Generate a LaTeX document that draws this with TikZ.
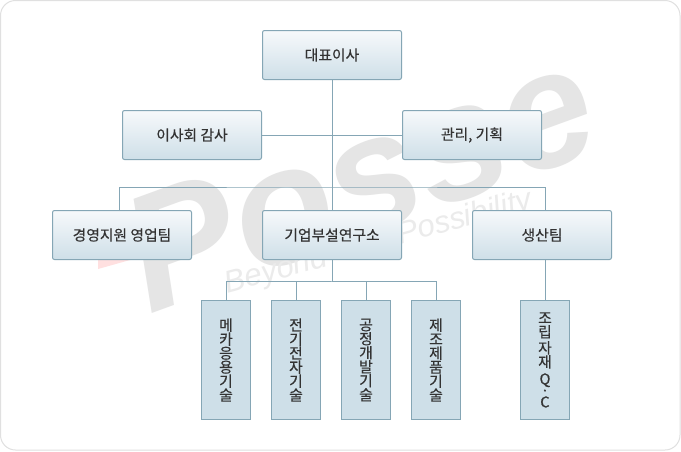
\documentclass[tikz,border=0pt]{standalone}
\usepackage{fontspec}
\setmainfont[FakeBold=0.35]{Noto Sans CJK KR}
\newfontfamily\markfont{Liberation Sans}
\begin{document}
\begin{tikzpicture}[x=1pt,y=-1pt]
        \definecolor{linecol}{HTML}{85A6B5}
        \definecolor{boxtop}{HTML}{F7F9FB}
        \definecolor{boxbot}{HTML}{CEDFE8}
        \definecolor{textcol}{HTML}{333333}
        \tikzstyle{widebox}=[shape=rectangle,draw=linecol,line width=1pt,rounded corners=2pt,top color=boxtop,bottom color=boxbot,minimum width=139pt,minimum height=49pt,inner sep=0pt,text=textcol,font=\fontsize{14.8}{16}\selectfont]
        \tikzstyle{tallbox}=[shape=rectangle,draw=linecol,line width=1pt,fill=boxbot,minimum width=49pt,minimum height=119pt,inner sep=0pt,align=center,text=textcol,font=\fontsize{14.8}{14}\selectfont,execute at begin node={\lineskiplimit=-20pt\relax}]
        \tikzstyle{joinline}=[draw=linecol,line width=1pt]
        \tikzstyle{logotext}=[anchor=base west,rotate=15,text=black!8,font=\markfont\fontsize{31}{31}\selectfont\itshape]
        \useasboundingbox (0,0) rectangle (681,451);

        % draw the white card with the round corners
        \draw[draw=black!12,fill=white,line width=1pt,rounded corners=15pt] (0.5,0.5) rectangle (680,450);

        % draw the logo behind everything
        \fill[red!12] (98,258) -- (130,250) -- (130,260) -- (98,269) -- cycle;
        \node[anchor=base,rotate=20,text=black!10,font=\markfont\fontsize{165}{165}\selectfont\bfseries\itshape] at (378,231) (logo) {Posse};
        \node[logotext] at (224,294) (logoa) {Beyond};
        \node[logotext] at (397,245) (logob) {Possibility};

        % two points where the lines branch
        \coordinate (busa) at (331.5,187);
        \coordinate (busb) at (331.5,281.5);

        % draw the top boxes
        \node[widebox] at (332,55) (ceo) {대표이사};
        \node[widebox] at (192,135) (audit) {이사회 감사};
        \node[widebox] at (472,135) (plan) {관리, 기획};

        % draw the three teams
        \node[widebox] at (122,235) (sales) {경영지원 영업팀};
        \node[widebox] at (332,235) (lab) {기업부설연구소};
        \node[widebox] at (542,235) (prod) {생산팀};

        % draw the tall boxes under the lab and the production team
        \node[tallbox] at (226,360) (mech) {메\\카\\응\\용\\기\\술};
        \node[tallbox] at (296,360) (elec) {전\\기\\전\\자\\기\\술};
        \node[tallbox] at (366,360) (proc) {공\\정\\개\\발\\기\\술};
        \node[tallbox] at (436,360) (make) {제\\조\\제\\품\\기\\술};
        \node[tallbox] at (545,360) (qc) {조\\립\\[2pt]자\\재\\[3pt]Q\\[-2.5pt]·\\[-2.5pt]C};

        % draw the lines in between the boxes
        \draw[joinline] (ceo.south) -- (lab.north);
        \draw[joinline] (audit.east) -- (plan.west);
        \draw[joinline] ([xshift=-3pt]sales.north) |- (busa) -| ([xshift=3.5pt]prod.north);
        \draw[joinline] (lab.south) -- (lab.south |- busb);
        \draw[joinline] (mech.north) |- (busb) -| (elec.north);
        \draw[joinline] (proc.north) |- (busb) -| (make.north);
        \draw[joinline] (prod.south -| qc) -- (qc.north);
    \end{tikzpicture}
\end{document}
